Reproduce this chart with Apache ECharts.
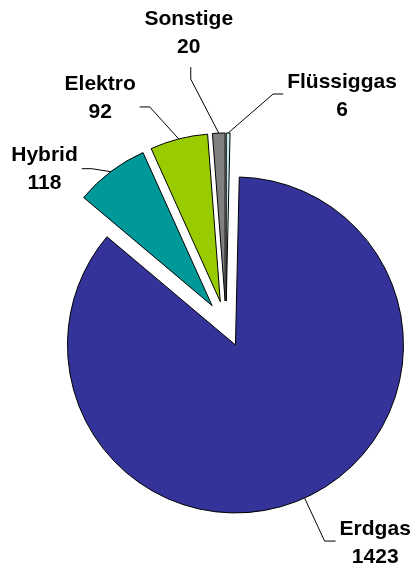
<!DOCTYPE html>
<html>
<head>
<meta charset="utf-8">
<script src="https://cdn.jsdelivr.net/npm/echarts@6/dist/echarts.min.js"></script>
<style>
html,body{margin:0;padding:0;background:#fff;}
#chart{width:414px;height:563px;}
</style>
</head>
<body>
<div id="chart"></div>
<script>
// Data
const categories = ['Erdgas', 'Hybrid', 'Elektro', 'Sonstige', 'Flüssiggas'];
const values = [1423, 118, 92, 20, 6];

// Styles (kept separate from data)
const colors = ['#333399', '#009999', '#99CC00', '#808080', '#C4ECEF'];
const CENTER = [226, 324];
const RADIUS = 168;
const OFFSET = 23;
// leader geometry relative to the slice edge: [dx1, dy1, dx2, dy2], side of text
const leaders = [
  { d: [20, 43, 11, 0], side: 'right', dy: 2 },
  { d: [-19, -3, -10, 0], side: 'left', dy: 1 },
  { d: [-29, -32, -10, 0], side: 'left', dy: -9 },
  { d: [-28, -54, 0, -12], side: 'top', dy: 0 },
  { d: [45, -39, 10, 0], side: 'right', dy: 2 }
];

const chart = echarts.init(document.getElementById('chart'), null, { renderer: 'canvas' });

const sliceData = categories.map((name, i) => ({
  name: name, value: values[i], selected: true,
  itemStyle: { color: colors[i] }
}));
const labelData = categories.map((name, i) => ({ name: name, value: values[i] }));

const common = {
  type: 'pie',
  center: CENTER,
  radius: RADIUS,
  startAngle: 88.7,
  clockwise: true,
  avoidLabelOverlap: false,
  silent: true,
  emphasis: { disabled: true }
};

chart.setOption({
  backgroundColor: '#ffffff',
  animation: false,
  series: [
    Object.assign({}, common, {
      selectedMode: 'multiple',
      selectedOffset: OFFSET,
      data: sliceData,
      itemStyle: { borderColor: '#000', borderWidth: 1 },
      select: { itemStyle: { borderColor: '#000', borderWidth: 1 } },
      label: { show: false },
      labelLine: { show: false }
    }),
    Object.assign({}, common, {
      selectedMode: false,
      data: labelData,
      itemStyle: { color: 'rgba(0,0,0,0)', borderWidth: 0 },
      label: {
        show: true,
        position: 'outside',
        formatter: '{b}\n{c}',
        fontFamily: 'Liberation Sans, Arial, sans-serif',
        fontWeight: 'bold',
        fontSize: 21,
        lineHeight: 28,
        color: '#000'
      },
      labelLine: {
        show: true, length: 10, length2: 10,
        lineStyle: { color: '#000', width: 1 }
      },
      labelLayout: function (p) {
        const L = leaders[p.dataIndex];
        const p0 = p.labelLinePoints[0];
        const vx = p0[0] - CENTER[0], vy = p0[1] - CENTER[1];
        const len = Math.sqrt(vx * vx + vy * vy) || 1;
        const s = [CENTER[0] + vx / len * (RADIUS + OFFSET), CENTER[1] + vy / len * (RADIUS + OFFSET)];
        const e1 = [s[0] + L.d[0], s[1] + L.d[1]];
        const e2 = [e1[0] + L.d[2], e1[1] + L.d[3]];
        const w = p.labelRect.width, h = p.labelRect.height;
        let x, y;
        if (L.side === 'left') { x = e2[0] - 4 - w / 2; y = e2[1] + L.dy; }
        else if (L.side === 'right') { x = e2[0] + 4 + w / 2; y = e2[1] + L.dy; }
        else { x = e2[0] - 2; y = e2[1] - 6 - h / 2; }
        return {
          x: x, y: y, align: 'center', verticalAlign: 'middle',
          labelLinePoints: [s, e1, e2]
        };
      }
    })
  ]
});
</script>
</body>
</html>
